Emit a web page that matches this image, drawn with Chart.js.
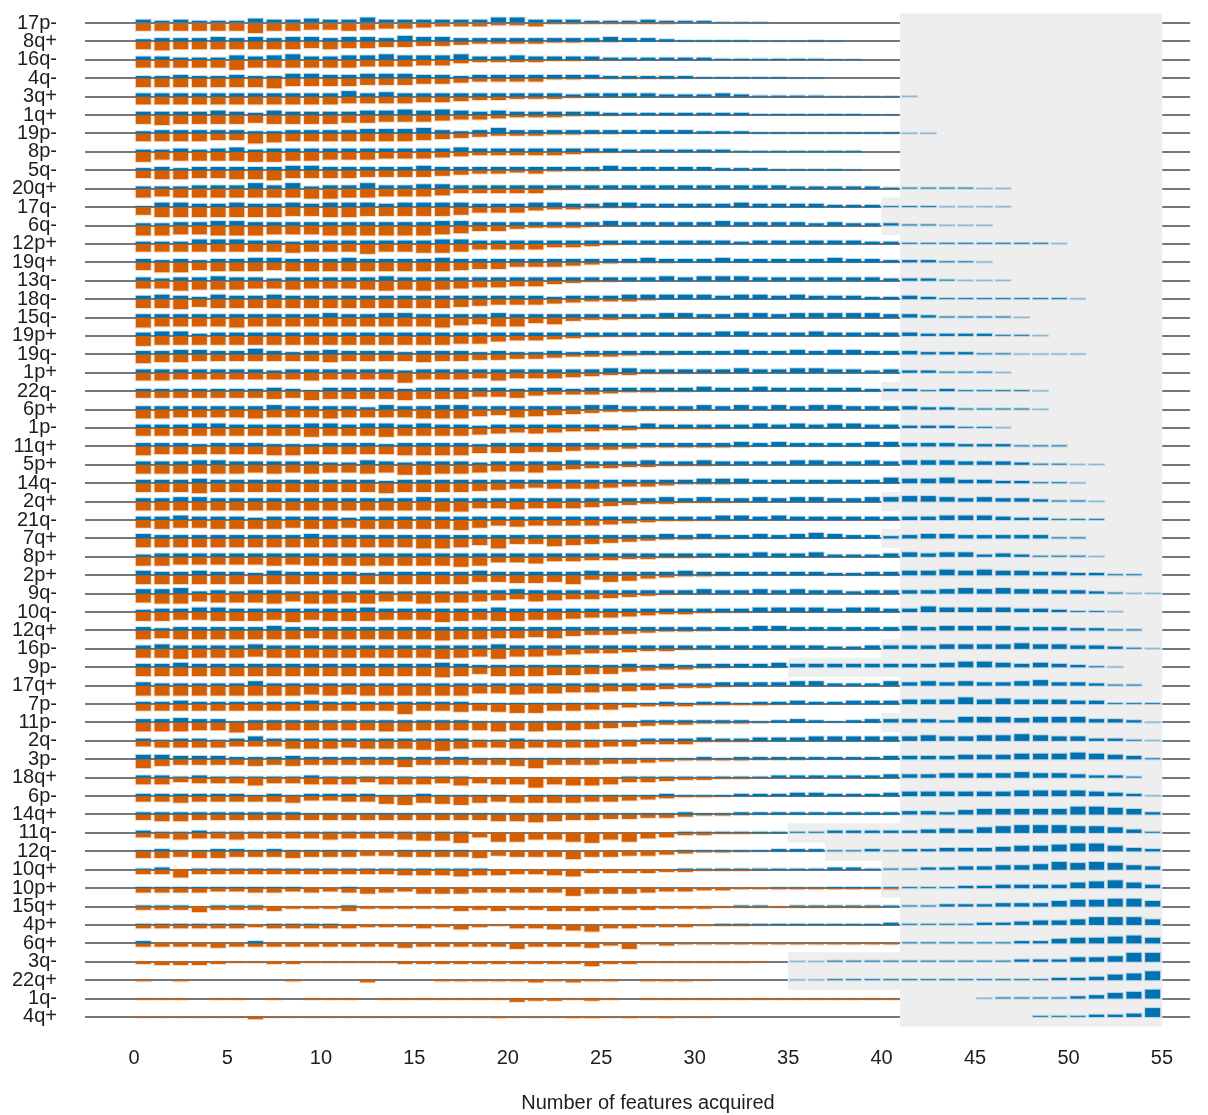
<!DOCTYPE html>
<html>
<head>
<meta charset="utf-8">
<script src="https://cdn.jsdelivr.net/npm/chart.js@4/dist/chart.umd.min.js"></script>
<style>
  html, body { margin: 0; padding: 0; background: #ffffff; }
  #wrap { width: 1208px; height: 1115px; }
</style>
</head>
<body>
<div id="wrap"><canvas id="chart" width="1208" height="1115"></canvas></div>
<script>
// Chromosome-arm events, one row each, top to bottom
const rowLabels = [
  "17p-", "8q+", "16q-", "4q-", "3q+", "1q+", "19p-", "8p-", "5q-", "20q+",
  "17q-", "6q-", "12p+", "19q+", "13q-", "18q-", "15q-", "19p+", "19q-", "1p+",
  "22q-", "6p+", "1p-", "11q+", "5p+", "14q-", "2q+", "21q-", "7q+", "8p+",
  "2p+", "9q-", "10q-", "12q+", "16p-", "9p-", "17q+", "7p-", "11p-", "2q-",
  "3p-", "18q+", "6p-", "14q+", "11q-", "12q-", "10q+", "10p+", "15q+", "4p+",
  "6q+", "3q-", "22q+", "1q-", "4q+"
];

const xTicks = [0, 5, 10, 15, 20, 25, 30, 35, 40, 45, 50, 55];
const xTitle = "Number of features acquired";

// First position of the shaded range in each row (range runs to 55)
const shadeStart = [
  41, 41, 41, 41, 41, 41, 41, 41, 41, 41,
  40, 40, 41, 41, 41, 41, 41, 41, 41, 41,
  40, 41, 41, 41, 41, 41, 40, 41, 40, 41,
  41, 41, 41, 41, 40, 35, 41, 41, 40, 41,
  41, 41, 41, 41, 35, 37, 40, 40, 41, 41,
  41, 35, 35, 41, 41
];
const shadeEnd = 55;

// Bar heights per position, one character per position.
// Segments separated by "|" begin at positions 0, 18 and 37; "a" is a trace (half a unit).
const blueRows = [
  "323222433433533333|35533322232221aa",
  "233343434434435443|333333343321111aaa1a",
  "332224345334454445|3343333222222111111aa",
  "223223224433444332|33333332222211111aa",
  "333333333335343333|3333323333222321111aaaaa",
  "333343243333445454|343333322222222111111aa",
  "233333223333444532|35333333333322211111111aa",
  "223234233333333334|333333332222221111111",
  "232333334433333433|33333334333332221111a",
  "222333535233533443|333333333333333332222211111aa",
  "144334334344434444|3334433443333343333222111aaaa",
  "223344333333333344|3333333433333433332322211aaa",
  "222444332333333344|3333333333333323333332211111111a",
  "323233443334333343|333333333433343333343322211a",
  "323343323333343333|33333333334344433333332221aaa",
  "343243343333333333|33332333444443443433322321111111a",
  "333333333343344333|34333333334433443444443321111a",
  "344233333333333333|333333333333344333433333222211a",
  "334433532343332333|2322323333333343343|4433322211aaaa",
  "333333323333332333|3333333443333343344|332322111a",
  "222222232133332333|3323323333334334333|33222121111a",
  "333333343333243344|3333334433334343434|43333221111a",
  "333443333443443433|2333333324333334343|443322211a",
  "333233322233323333|2333333333333343433|3344333222111",
  "333443333322432333|2333343334334333344|3343444333211aa",
  "333433333333323333|3333333333334443333|3335445332211a",
  "334433333333333433|3333333333434334344|33445543433211a",
  "334333233332333333|3333333333333443433|333333444322111",
  "433333333433333333|3333333333434334345|43323443333311",
  "233333333333333333|3333333333333334334|22234344232111a",
  "433433243333233333|4333334333343333333|22334454544332211",
  "445232332232322222|3343333333334334343|3233334545443321aa",
  "233443333333433333|3433333333333334444|344335444433211a",
  "323333343333333333|3333333333333334433|33334344443332211",
  "343333433333333333|3433333333333333333|22333344445443321a",
  "334333333333333343|2222222232323333433|333333455434321a",
  "322222422222222222|2222222222222333344|22243434334533211",
  "223222222322222222|1111111111212212232|233344464544433111",
  "334331222222222222|1111111112222221232|12333325554555332a",
  "212212422222222222|1121111112223223334|44444544556544221a",
  "443332223222222222|1111111111112122222|222333344455565431",
  "221211111211111111|0000000011111111222|222333444454432210",
  "222222121222211211|1101111111211122233|22234444445555432a",
  "222222222111111111|1111111111121122222|222233245555577652",
  "211211111111111111|0000000000011111111|222223435677766531",
  "121122121111001111|0000000000011111222|112122333455677532",
  "120111111111111111|1000000000011111111|221112233445767643",
  "111111111001000000|0000000000000000aaa|111111122333356753",
  "111011100001000000|0000000000000011011|111111222333566775",
  "111111011110000000|0000000000000111111|111211112234457775",
  "200000200000000000|0000000000000000000|000011111122455675",
  "000000000000000000|00000000000000000aa|111111111122244588",
  "000000000000000000|00000000000000000aa|111111111111223568",
  "000000000000000000|0000000000000000000|00000000a111123568",
  "000000000000000000|0000000000000000000|000000000001112238"
];

const orangeRows = [
  "777777977667655433|322311aaaaa",
  "787777777676655443|222211aa",
  "777779777777666553|222211aa",
  "888888897777666554|333311aaaaa",
  "777777777776666554|332221aaa",
  "898888788887766654|432221aa",
  "777766987777777654|322211aa",
  "978888998877766654|3333321a",
  "788778897777666654|33231aa",
  "878888888998877764|44441aa",
  "799999998899888887|5553221aa",
  "998899988899999987|5532221a",
  "777777778777977887|55553321",
  "799788878888888887|66444321aaa",
  "779888778777898987|66553211",
  "889788888888888887|6555432221",
  "988889888888888897|688563221aaaa",
  "988888888888888887|7544321aa",
  "877666666676666766|554432221aa",
  "776666666766669666|57555432211aaa",
  "666666676877778777|5564333211aa",
  "887777877787777888|657654322111a",
  "777777777877787777|6545433221111a",
  "877777788777778888|66655433211111a",
  "888888787877879988|7667543322111a",
  "888988888888898888|76545554332111a",
  "888888888888888899|66766654322111a",
  "787788887887888889|756555543211aa",
  "888888888888888998|695576543211aa",
  "887777787888888889|855644332211a",
  "888888888888888888|6677684653211a",
  "899788897998977988|76576554321aa",
  "887788879788877798|7887765543221aa",
  "878888888788888898|877675443211a",
  "889888788888888898|797765443221a",
  "888888888888888898|6888776643221a",
  "999999999898999999|77877665543221a",
  "666666666666669667|6788665532221111a",
  "888779777777788777|787877654322111a",
  "566665557776777897|667666655333111a",
  "865555656555557555|556855544321111aaa",
  "664555755666466657|566967764432211a",
  "556555556445578678|6566665543211a",
  "566555555555555555|56676554433211a",
  "456556555565556779|488668968542211a",
  "665665556555445555|64555755443211a",
  "447444444444445556|554456333322111a",
  "444433443434543555|44444755543322111111111",
  "333533342224222224|3433444333222111111111",
  "333333233333222324|213345633222111a",
  "333343333333334333|33533342512111111111111",
  "233321122111112222|222222422111111a",
  "101000001000200011|111212110111a",
  "111011010111011111|11322121011111111111111",
  "aaaaaa2aaaaaaaaaaa|a1aaa11a1a1aa"
];

const N_POS = 55;
const SEGMENT_START = [0, 18, 37];

function decodeRow(text) {
  const values = new Array(N_POS).fill(0);
  text.split("|").forEach((seg, k) => {
    for (let j = 0; j < seg.length; j++) {
      const pos = SEGMENT_START[k] + j;
      if (pos >= N_POS) break;
      values[pos] = seg[j] === "a" ? 0.5 : Number(seg[j]);
    }
  });
  return values;
}

const blueValues = blueRows.map(decodeRow);
const orangeValues = orangeRows.map(decodeRow);

// Height of one value unit, in row units on the y scale
const BAR_SCALE = 0.06;

const bluePoints = [];
blueValues.forEach((row, r) => row.forEach((v, i) => {
  if (v > 0) bluePoints.push({ x: i + 0.5, y: [r - v * BAR_SCALE, r], v });
}));
const orangePoints = [];
orangeValues.forEach((row, r) => row.forEach((v, i) => {
  if (v > 0) orangePoints.push({ x: i + 0.5, y: [r, r + v * BAR_SCALE], v });
}));
const shadePoints = shadeStart.map((s, r) => ({ y: r, x: [s, shadeEnd] }));

const FONT = "'Liberation Sans', Arial, Helvetica, sans-serif";
const TEXT = "#1e1e1e";
const X_MIN = -2.62, X_MAX = 56.5;
const Y_MIN = -0.6, Y_MAX = rowLabels.length - 1 + 0.6;

// thin bars are drawn lighter
function shade(rgb, v) {
  const a = v >= 2 ? 1 : v >= 1 ? 0.8 : 0.45;
  return "rgba(" + rgb + "," + a + ")";
}
const BLUE = "0,114,178", ORANGE = "213,94,0";

// Axis title centred on the 0..55 range
const axisTitle = {
  id: "axisTitle",
  afterDraw(chart) {
    const { ctx } = chart;
    const xs = chart.scales.x;
    ctx.save();
    ctx.font = "20px " + FONT;
    ctx.fillStyle = TEXT;
    ctx.textAlign = "center";
    ctx.textBaseline = "middle";
    ctx.fillText(xTitle, xs.getPixelForValue((xTicks[0] + xTicks[xTicks.length - 1]) / 2), chart.height - 12);
    ctx.restore();
  }
};

const barCommon = { borderWidth: 0, barPercentage: 0.8, categoryPercentage: 1, grouped: false };

new Chart(document.getElementById("chart"), {
  type: "bar",
  data: {
    datasets: [
      {
        label: "shade",
        indexAxis: "y",
        xAxisID: "x2",
        yAxisID: "y2",
        data: shadePoints,
        backgroundColor: "#eeeeee",
        borderWidth: 0,
        barPercentage: 1,
        categoryPercentage: 1,
        grouped: false,
        order: 5
      },
      Object.assign({
        label: "orange halo",
        data: orangePoints,
        backgroundColor: "rgba(213,94,0,0.22)",
        inflateAmount: 1,
        order: 4
      }, barCommon),
      Object.assign({
        label: "blue halo",
        data: bluePoints,
        backgroundColor: "rgba(0,114,178,0.22)",
        inflateAmount: 1,
        order: 3
      }, barCommon),
      Object.assign({
        label: "orange",
        data: orangePoints,
        backgroundColor: (c) => shade(ORANGE, c.raw ? c.raw.v : 2),
        inflateAmount: 0,
        order: 2
      }, barCommon),
      Object.assign({
        label: "blue",
        data: bluePoints,
        backgroundColor: (c) => shade(BLUE, c.raw ? c.raw.v : 2),
        inflateAmount: 0,
        order: 1
      }, barCommon)
    ]
  },
  options: {
    responsive: false,
    devicePixelRatio: 1,
    animation: false,
    events: [],
    layout: { padding: { top: 12, right: 18, left: 0, bottom: 0 } },
    plugins: { legend: { display: false }, tooltip: { enabled: false } },
    scales: {
      x: {
        type: "linear",
        min: X_MIN,
        max: X_MAX,
        offset: false,
        afterBuildTicks: (axis) => { axis.ticks = xTicks.map(v => ({ value: v })); },
        afterFit: (axis) => { axis.height = 87; },
        ticks: { autoSkip: false, maxRotation: 0, padding: 18, color: TEXT, font: { family: FONT, size: 20 } },
        grid: { display: false, drawTicks: false, offset: false },
        border: { display: false }
      },
      y: {
        type: "linear",
        reverse: true,
        min: Y_MIN,
        max: Y_MAX,
        offset: false,
        afterBuildTicks: (axis) => { axis.ticks = rowLabels.map((_, i) => ({ value: i })); },
        afterFit: (axis) => { axis.width = 85; },
        ticks: {
          autoSkip: false,
          padding: 0,
          color: TEXT,
          font: { family: FONT, size: 20 },
          callback: (v) => rowLabels[v] ?? ""
        },
        grid: { color: "#777777", lineWidth: 2, drawTicks: true, tickLength: 28, tickColor: "rgba(0,0,0,0)" },
        border: { display: false }
      },
      x2: { type: "linear", display: false, min: X_MIN, max: X_MAX, offset: false, grid: { offset: false } },
      y2: { type: "linear", display: false, reverse: true, min: Y_MIN, max: Y_MAX, offset: false, grid: { offset: false } }
    }
  },
  plugins: [axisTitle]
});
</script>
</body>
</html>
